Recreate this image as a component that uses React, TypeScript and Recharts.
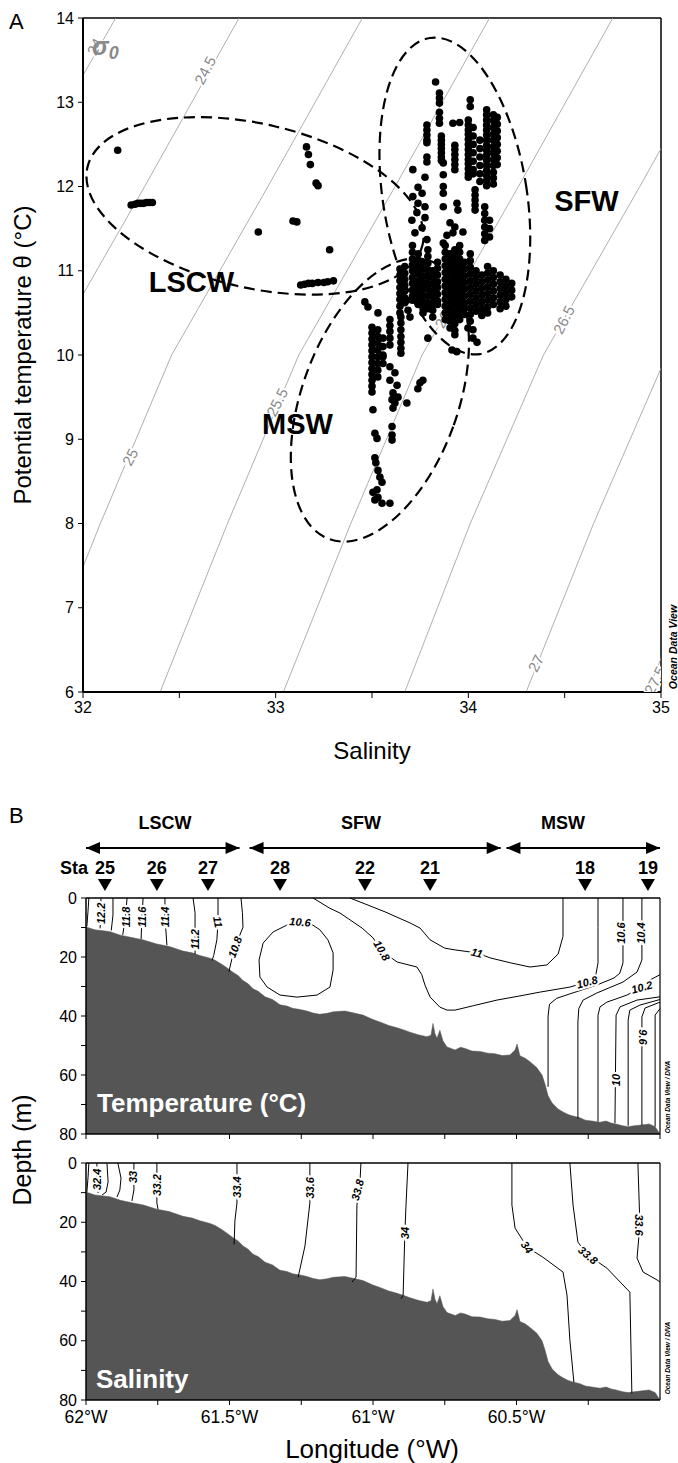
import { ComposedChart, Line, Scatter, Area, XAxis, YAxis, ReferenceLine } from 'recharts';

const FONT = '"Liberation Sans", Arial, sans-serif';

// ---------------- Panel A : theta / salinity diagram ----------------
const salTicks = [32, 32.5, 33, 33.5, 34, 34.5, 35];
const thetaTicks = [6, 7, 8, 9, 10, 11, 12, 13, 14];

// sigma-0 isopycnals: salinity read at theta = 6, 8, 10, 12, 14 °C
const isoTheta = [6, 8, 10, 12, 14];
const sigmaLevels = ['24', '24.5', '25', '25.5', '26', '26.5', '27', '27.5'];
const sigmaSal = [
  [30.45, 30.8, 31.18, 31.67, 32.17],
  [31.1, 31.45, 31.82, 32.32, 32.81],
  [31.74, 32.09, 32.46, 32.96, 33.45],
  [32.4, 32.75, 33.12, 33.62, 34.11],
  [33.04, 33.39, 33.76, 34.26, 34.75],
  [33.67, 34.01, 34.39, 34.89, 35.38],
  [34.3, 34.65, 35.03, 35.52, 36.02],
  [34.93, 35.28, 35.65, 36.15, 36.64],
];
const sigmaLabels = [
  { text: '24', s: 32.06, t: 13.66 },
  { text: '24.5', s: 32.633, t: 13.38 },
  { text: '25', s: 32.244, t: 8.79 },
  { text: '25.5', s: 33.007, t: 9.44 },
  { text: '26', s: 33.866, t: 10.42 },
  { text: '26.5', s: 34.495, t: 10.42 },
  { text: '27', s: 34.35, t: 6.34 },
  { text: '27.5', s: 34.968, t: 6.14 },
];

const lscwObs: [number, number][] = [
  [32.18, 12.43],
  [32.25, 11.78], [32.27, 11.79], [32.285, 11.8], [32.3, 11.8], [32.315, 11.8], [32.33, 11.81], [32.345, 11.81], [32.36, 11.81],
  [32.91, 11.46], [33.09, 11.59], [33.11, 11.58],
  [33.16, 12.47], [33.17, 12.38], [33.18, 12.26], [33.21, 12.04], [33.22, 12.01],
  [33.28, 11.25],
  [33.13, 10.83], [33.15, 10.84], [33.17, 10.85], [33.19, 10.85], [33.22, 10.86], [33.25, 10.86], [33.27, 10.87], [33.3, 10.88],
];

const mswObs: [number, number][] = [
  [33.463, 10.63], [33.479, 10.57], [33.531, 10.5],
  [33.5, 10.33], [33.5, 10.26], [33.5, 10.19], [33.5, 10.12], [33.5, 10.05], [33.5, 9.98], [33.5, 9.91], [33.5, 9.84],
  [33.5, 9.77], [33.5, 9.7], [33.5, 9.63], [33.5, 9.56],
  [33.53, 10.3], [33.53, 10.22], [33.53, 10.14], [33.53, 10.06], [33.53, 9.98], [33.53, 9.9], [33.53, 9.82], [33.53, 9.74],
  [33.557, 10.2], [33.557, 10.1], [33.557, 10.0], [33.557, 9.9],
  [33.593, 10.42], [33.593, 10.35], [33.593, 10.28], [33.593, 10.2], [33.593, 10.12],
  [33.65, 10.45], [33.65, 10.38], [33.65, 10.3], [33.65, 10.22], [33.65, 10.15], [33.65, 10.08], [33.65, 10.02],
  [33.681, 10.65], [33.687, 10.53], [33.697, 10.45],
  [33.557, 9.98], [33.593, 9.86], [33.619, 9.79], [33.593, 9.7], [33.63, 9.64], [33.609, 9.55], [33.635, 9.5],
  [33.604, 9.47], [33.619, 9.43], [33.681, 9.43], [33.609, 9.37], [33.505, 9.35],
  [33.749, 9.67], [33.764, 9.7], [33.738, 9.6], [33.79, 10.2],
  [33.515, 9.07], [33.526, 9.01], [33.604, 9.15], [33.604, 9.05], [33.604, 8.99],
  [33.515, 8.78], [33.52, 8.72], [33.531, 8.63], [33.541, 8.55], [33.552, 8.49], [33.505, 8.37], [33.526, 8.4],
  [33.531, 8.31], [33.552, 8.24], [33.515, 8.28], [33.593, 8.24],
];

// SFW profiles: [salinity, theta values]
const sfwUpperCols: [number, number[]][] = [
  [33.83, [13.24]],
  [33.85, [13.11, 13.05, 12.99, 12.88, 12.81, 12.75]],
  [33.86, [12.6, 12.55, 12.5, 12.45, 12.4, 12.35, 12.31]],
  [33.785, [12.73, 12.67, 12.61, 12.55, 12.52, 12.35, 12.29]],
  [33.92, [12.75]],
  [33.955, [12.76]],
  [33.93, [12.49, 12.44, 12.38, 12.32, 12.26, 12.2]],
  [34.01, [13.03, 12.95]],
  [34.0, [12.79, 12.73, 12.67, 12.62, 12.56, 12.5, 12.44, 12.38, 12.32, 12.27, 12.21, 12.15, 12.11]],
  [34.025, [12.7, 12.6, 12.5, 12.4, 12.3, 12.2, 12.15]],
  [34.06, [12.55, 12.45, 12.35, 12.25, 12.15, 12.06]],
  [34.095, [12.91, 12.85, 12.79, 12.73, 12.67, 12.61, 12.55, 12.49, 12.43, 12.37, 12.31, 12.25, 12.19, 12.13, 12.07, 12.01]],
  [34.13, [12.85, 12.78, 12.7, 12.62, 12.55, 12.47, 12.4, 12.32, 12.25, 12.17, 12.1, 12.03]],
  [34.15, [12.82, 12.74, 12.66, 12.58, 12.5, 12.42, 12.34, 12.26]],
  [33.87, [12.28, 12.14, 12.0, 11.92, 11.76, 11.33]],
  [34.035, [11.96, 11.9, 11.84, 11.78, 11.72]],
  [34.085, [11.76, 11.68, 11.6, 11.52, 11.44, 11.36]],
  [34.11, [11.6, 11.5, 11.4]],
];
const sfwCoreCols: [number, number[]][] = [
  [33.645, [11.02, 10.95, 10.88, 10.8, 10.73, 10.66, 10.58, 10.5]],
  [33.67, [11.05, 10.97, 10.9, 10.83, 10.76, 10.68, 10.62]],
  [33.71, [11.3, 11.22, 11.14, 11.07, 11.0, 10.92, 10.85, 10.77, 10.7, 10.65]],
  [33.74, [11.2, 11.12, 11.04, 10.96, 10.88, 10.81, 10.73, 10.66, 10.6]],
  [33.765, [11.1, 11.02, 10.94, 10.86, 10.79, 10.71, 10.63, 10.55, 10.5]],
  [33.79, [11.25, 11.17, 11.09, 11.01, 10.93, 10.85, 10.78, 10.7, 10.62, 10.55]],
  [33.815, [11.0, 10.92, 10.84, 10.76, 10.69, 10.61, 10.53, 10.45]],
  [33.84, [11.1, 11.03, 10.95, 10.87, 10.8, 10.72, 10.64, 10.6]],
  [33.88, [11.3, 11.22, 11.14, 11.06, 10.98, 10.9, 10.82, 10.74, 10.66, 10.58, 10.5, 10.42]],
  [33.905, [11.2, 11.12, 11.04, 10.96, 10.88, 10.8, 10.72, 10.64, 10.56, 10.48, 10.4, 10.32]],
  [33.93, [11.25, 11.17, 11.09, 11.01, 10.93, 10.85, 10.77, 10.69, 10.61, 10.53, 10.45, 10.37, 10.29, 10.24]],
  [33.955, [11.3, 11.22, 11.14, 11.06, 10.98, 10.9, 10.82, 10.74, 10.66, 10.58, 10.5, 10.42]],
  [33.98, [11.1, 11.02, 10.94, 10.86, 10.78, 10.7, 10.62, 10.55, 10.48]],
  [34.01, [11.2, 11.12, 11.04, 10.96, 10.88, 10.8, 10.72, 10.64, 10.56, 10.48, 10.4]],
  [34.04, [11.0, 10.92, 10.84, 10.76, 10.68, 10.6, 10.52]],
  [34.07, [10.95, 10.87, 10.79, 10.71, 10.63, 10.55, 10.47]],
  [34.1, [11.05, 10.97, 10.89, 10.81, 10.73, 10.65, 10.57, 10.5]],
  [34.13, [11.0, 10.92, 10.84, 10.76, 10.68, 10.6]],
  [34.165, [10.95, 10.87, 10.79, 10.71, 10.63, 10.55]],
  [34.195, [10.9, 10.82, 10.74, 10.66, 10.58]],
  [34.225, [10.85, 10.77, 10.69]],
];
const sfwScattered: [number, number][] = [
  [33.712, 12.2], [33.775, 12.11], [33.739, 11.99], [33.76, 11.92], [33.712, 11.88], [33.739, 11.8], [33.775, 11.76],
  [33.733, 11.69], [33.707, 11.6], [33.775, 11.63], [33.76, 11.51], [33.723, 11.45], [33.785, 11.37],
  [33.941, 11.8], [33.946, 11.72], [33.905, 11.57], [33.93, 11.52], [33.972, 11.46], [33.889, 11.42], [33.92, 11.45],
  [33.998, 10.32], [34.024, 10.3], [34.024, 10.2], [34.045, 10.15], [33.915, 10.06], [33.94, 10.04],
];

// dashed water-mass outlines (centre in data units)
const outlineNames = ['LSCW', 'MSW', 'SFW'];
const outlineCentre: [number, number][] = [[32.893, 11.77], [33.541, 9.466], [33.93, 11.887]];
const outlineShape = [
  { rx: 172, ry: 82, rot: 13 },
  { rx: 78, ry: 148, rot: 20 },
  { rx: 72, ry: 160, rot: -9 },
];
const massLabelsA = [
  { text: 'LSCW', s: 32.563, t: 10.87 },
  { text: 'MSW', s: 33.113, t: 9.18 },
  { text: 'SFW', s: 34.613, t: 11.83 },
];

// ---------------- Panel B : sections ----------------
const lonTicks = [60, 60.25, 60.5, 60.75, 61, 61.25, 61.5, 61.75, 62];
const depthTicks = [0, 10, 20, 30, 40, 50, 60, 70, 80];

const stationIds = ['25', '26', '27', '28', '22', '21', '18', '19'];
const stationLon = [61.934, 61.753, 61.575, 61.324, 61.028, 60.801, 60.261, 60.042];
const massNames = ['LSCW', 'SFW', 'MSW'];
const massSpan: [number, number][] = [[62.0, 61.465], [61.43, 60.555], [60.535, 60.0]];
const massLabelLon = [61.725, 61.042, 60.338];

// bottom depth along the section [lon °W, depth m]
const bathy: [number, number][] = [
  [62.0, 9.8], [61.969, 10.8], [61.94, 11.1], [61.916, 11.4], [61.88, 12.6], [61.836, 13.5], [61.8, 14.2],
  [61.753, 15.6], [61.71, 16.4], [61.662, 18], [61.63, 18.6], [61.603, 19.5], [61.568, 20.4], [61.55, 21.1],
  [61.526, 22.5], [61.51, 23.6], [61.488, 25.2], [61.47, 26.3], [61.453, 28], [61.435, 29.1], [61.418, 30.8],
  [61.4, 31.6], [61.376, 33.5], [61.35, 34.4], [61.324, 36.2], [61.3, 36.6], [61.28, 37.4], [61.254, 37.8],
  [61.23, 38.3], [61.209, 39], [61.185, 39.4], [61.16, 39.1], [61.139, 38.6], [61.098, 38.3], [61.07, 38.9],
  [61.035, 39.7], [61.0, 41.2], [60.976, 42], [60.945, 43.2], [60.916, 44], [60.89, 44.8], [60.871, 45.5],
  [60.84, 46.4], [60.812, 47], [60.798, 46.5], [60.791, 42.5], [60.784, 46], [60.777, 47.5], [60.767, 44.8],
  [60.756, 48.5], [60.742, 50.5], [60.714, 51.5], [60.695, 50.6], [60.679, 51], [60.655, 51.9], [60.627, 52],
  [60.6, 52.6], [60.575, 52.8], [60.55, 53.4], [60.523, 53.2], [60.505, 51.5], [60.498, 49.5], [60.488, 53.5],
  [60.47, 54.3], [60.453, 55.5], [60.429, 57.5], [60.411, 60], [60.401, 63], [60.39, 67], [60.376, 69.5],
  [60.355, 71.5], [60.338, 72.5], [60.32, 73.4], [60.307, 73.8], [60.279, 74.5], [60.26, 75.3], [60.244, 75.5],
  [60.209, 76], [60.188, 75.6], [60.17, 76.3], [60.157, 76.5], [60.13, 77.2], [60.111, 77.5], [60.09, 77.2],
  [60.07, 77], [60.038, 76.6], [60.017, 77.5], [60.0, 80],
];

const tempIsolines: [number, number][][] = [
  [[61.99, 0], [61.993, 4.5], [61.997, 9.6]],
  [[61.948, 0], [61.948, 5], [61.951, 10.3]],
  [[61.906, 0], [61.906, 5.8], [61.912, 11]],
  [[61.857, 0], [61.862, 6.4], [61.872, 12.5]],
  [[61.801, 0], [61.805, 6.4], [61.808, 14]],
  [[61.725, 0], [61.725, 6.4], [61.718, 16]],
  [[61.627, 0], [61.62, 5], [61.62, 14.2], [61.62, 19]],
  [[61.54, 0], [61.54, 8.1], [61.544, 14.2], [61.555, 19.5], [61.561, 21.2]],
  [[61.46, 0], [61.455, 5], [61.453, 9.9], [61.47, 14], [61.481, 16.6], [61.495, 22], [61.502, 25]],
  [[61.3, 9.2], [61.348, 11.5], [61.383, 15.3], [61.397, 21], [61.394, 26.8], [61.369, 30.2], [61.324, 32.9],
    [61.265, 33.6], [61.195, 32.9], [61.15, 30.2], [61.139, 24.4], [61.139, 18.6], [61.157, 14.2], [61.185, 10.8],
    [61.209, 9.2], [61.265, 8.1], [61.3, 9.2]],
  [[61.209, 0], [61.15, 3.5], [61.115, 5.1], [61.038, 10.2], [61.0, 13.5], [60.969, 18], [60.916, 21.7],
    [60.847, 23.4], [60.83, 26], [60.819, 29.5], [60.801, 33.6], [60.767, 37], [60.742, 38], [60.714, 38],
    [60.65, 36.5], [60.568, 34.6], [60.494, 33.3], [60.418, 31.9], [60.314, 30.2], [60.254, 28.5], [60.225, 26.8],
    [60.216, 22], [60.216, 10], [60.216, 0]],
  [[61.08, 0], [60.958, 4.7], [60.87, 8.5], [60.836, 10.2], [60.801, 14.2], [60.75, 17], [60.714, 17.6],
    [60.638, 18.6], [60.592, 20.3], [60.52, 22], [60.453, 23.4], [60.394, 22.7], [60.355, 19], [60.338, 13], [60.338, 0]],
  [[60.129, 0], [60.129, 22], [60.14, 25.5], [60.16, 27.1], [60.22, 29.5], [60.314, 32.5], [60.36, 34], [60.385, 36],
    [60.39, 40], [60.39, 64]],
  [[60.063, 0], [60.063, 21], [60.08, 25.1], [60.129, 28.5], [60.22, 32.2], [60.268, 34.6], [60.283, 37.5],
    [60.286, 42], [60.286, 74.8]],
  [[60.0, 26], [60.035, 27.8], [60.063, 30.2], [60.115, 32.9], [60.185, 35.3], [60.209, 36.9], [60.216, 39.7], [60.216, 75.8]],
  [[60.0, 33.5], [60.08, 34.6], [60.139, 36.9], [60.153, 39.7], [60.157, 76.3]],
  [[60.0, 34.4], [60.07, 36.3], [60.105, 38], [60.111, 41.4], [60.111, 77.2]],
  [[60.0, 35.3], [60.052, 37.3], [60.063, 40.3], [60.063, 77.1]],
  [[60.0, 37.5], [60.017, 39.7], [60.017, 77.5]],
];
const tempLabels = [
  { text: '12.2', lon: 61.947, d: 5.2, rot: -90 },
  { text: '11.8', lon: 61.862, d: 6.4, rot: -90 },
  { text: '11.6', lon: 61.805, d: 6.4, rot: -90 },
  { text: '11.4', lon: 61.725, d: 6.4, rot: -90 },
  { text: '11.2', lon: 61.62, d: 14, rot: -90 },
  { text: '11', lon: 61.54, d: 8.1, rot: 80 },
  { text: '10.8', lon: 61.481, d: 16.6, rot: -70 },
  { text: '10.6', lon: 61.254, d: 8.1, rot: 5 },
  { text: '10.8', lon: 60.969, d: 17.8, rot: 60 },
  { text: '11', lon: 60.638, d: 18.6, rot: 15 },
  { text: '10.8', lon: 60.254, d: 28.5, rot: -15 },
  { text: '10.6', lon: 60.135, d: 11.9, rot: -90 },
  { text: '10.4', lon: 60.066, d: 11.9, rot: -90 },
  { text: '10.2', lon: 60.063, d: 30.2, rot: -15 },
  { text: '10', lon: 60.155, d: 61.7, rot: -90 },
  { text: '9.6', lon: 60.058, d: 47.1, rot: 90 },
];

const salIsolines: [number, number][][] = [
  [[61.99, 0], [61.993, 5], [61.997, 9.8]],
  [[61.962, 0], [61.962, 7], [61.958, 10.1]],
  [[61.927, 0], [61.923, 6.4], [61.93, 9.8], [61.944, 10.8]],
  [[61.889, 0], [61.878, 5.1], [61.882, 9.1], [61.892, 11.5]],
  [[61.833, 0], [61.833, 9.1], [61.84, 12.8]],
  [[61.753, 0], [61.753, 13.5], [61.749, 15.6]],
  [[61.474, 0], [61.474, 13.5], [61.481, 19.3], [61.484, 27.5]],
  [[61.22, 0], [61.22, 13.5], [61.237, 28], [61.261, 38.6]],
  [[61.042, 0], [61.045, 5.7], [61.056, 14.2], [61.059, 38.5], [61.073, 40.2]],
  [[60.878, 0], [60.885, 14.2], [60.889, 23.6], [60.895, 44.6], [60.902, 45.8]],
  [[60.516, 0], [60.516, 14.2], [60.505, 22], [60.463, 28.4], [60.408, 31.8], [60.338, 36.8], [60.324, 44.6],
    [60.314, 59.8], [60.3, 74]],
  [[60.314, 0], [60.303, 14.2], [60.286, 26.7], [60.251, 31.1], [60.185, 35.5], [60.105, 43.6], [60.098, 77.8]],
  [[60.077, 0], [60.07, 20.9], [60.08, 32.1], [60.059, 36.8], [60.01, 39.5], [60.0, 40.2]],
];
const salLabels = [
  { text: '32.4', lon: 61.962, d: 5.5, rot: -90 },
  { text: '33', lon: 61.835, d: 4.7, rot: -90 },
  { text: '33.2', lon: 61.753, d: 7.4, rot: -90 },
  { text: '33.4', lon: 61.474, d: 8.1, rot: -90 },
  { text: '33.6', lon: 61.22, d: 8.4, rot: -90 },
  { text: '33.8', lon: 61.054, d: 9.1, rot: -75 },
  { text: '34', lon: 60.889, d: 23.6, rot: -90 },
  { text: '34', lon: 60.463, d: 28.4, rot: 55 },
  { text: '33.8', lon: 60.251, d: 31.1, rot: 40 },
  { text: '33.6', lon: 60.072, d: 20.9, rot: 90 },
];

// ---------------- helpers ----------------
const Dot = (p: any) => <circle cx={p.cx} cy={p.cy} r={3.8} fill="#000" />;

const textShape = (size: number, fill: string, opts: { bold?: boolean; italic?: boolean; halo?: boolean; rot?: number } = {}) =>
  (p: any) => {
    const rot = p.payload.rot ?? opts.rot ?? 0;
    return (
      <text
        x={p.cx}
        y={p.cy}
        transform={`rotate(${rot} ${p.cx} ${p.cy})`}
        textAnchor="middle"
        dominantBaseline="central"
        fontFamily={FONT}
        fontSize={size}
        fontWeight={opts.bold ? 'bold' : 'normal'}
        fontStyle={opts.italic ? 'italic' : 'normal'}
        fill={fill}
        stroke={opts.halo ? '#fff' : 'none'}
        strokeWidth={opts.halo ? 4 : 0}
        paintOrder="stroke"
      >
        {p.payload.text}
      </text>
    );
  };

const flatCols = (cols: [number, number[]][]) => cols.flatMap(([s, ts]) => ts.map((t) => ({ s, t })));
const obsA = [
  ...lscwObs.map(([s, t]) => ({ s, t })),
  ...mswObs.map(([s, t]) => ({ s, t })),
  ...flatCols(sfwUpperCols),
  ...flatCols(sfwCoreCols),
  ...sfwScattered.map(([s, t]) => ({ s, t })),
];

function PanelA() {
  return (
    <ComposedChart width={678} height={770} margin={{ top: 18, right: 17, bottom: 48, left: 23 }}>
      <XAxis
        type="number"
        dataKey="s"
        domain={[32, 35]}
        ticks={salTicks}
        allowDataOverflow
        height={30}
        tickSize={6}
        tickMargin={4}
        tickFormatter={(v: number) => (Number.isInteger(v) ? String(v) : '')}
        tick={{ fontSize: 16, fill: '#000', fontFamily: FONT }}
        tickLine={{ stroke: '#000' }}
        axisLine={{ stroke: '#000', strokeWidth: 2 }}
      />
      <YAxis
        type="number"
        dataKey="t"
        domain={[6, 14]}
        ticks={thetaTicks}
        allowDataOverflow
        width={60}
        tickSize={5}
        tickMargin={4}
        tick={{ fontSize: 16, fill: '#000', fontFamily: FONT }}
        tickLine={{ stroke: '#000' }}
        axisLine={{ stroke: '#000', strokeWidth: 2 }}
      />
      <ReferenceLine y={14} stroke="#000" strokeWidth={1.5} />
      <ReferenceLine x={35} stroke="#000" strokeWidth={1.5} />
      {sigmaLevels.map((lvl, i) => (
        <Line
          key={'iso' + lvl}
          data={isoTheta.map((t, k) => ({ s: sigmaSal[i][k], t }))}
          dataKey="t"
          stroke="#9a9a9a"
          strokeWidth={0.8}
          dot={false}
          activeDot={false}
          isAnimationActive={false}
        />
      ))}
      <Scatter data={sigmaLabels} dataKey="t" shape={textShape(15, '#8a8a8a', { halo: true, rot: -63 })} isAnimationActive={false} />
      <Scatter
        data={[{ s: 32.047, t: 13.56 }]}
        dataKey="t"
        isAnimationActive={false}
        shape={(p: any) => (
          <text x={p.cx} y={p.cy} fontFamily={FONT} fontSize={25} fontWeight="bold" fontStyle="italic" fill="#8a8a8a">
            σ<tspan fontSize={18} dy={4}>0</tspan>
          </text>
        )}
      />
      {outlineNames.map((n, i) => (
        <Scatter
          key={'ol' + n}
          data={[{ s: outlineCentre[i][0], t: outlineCentre[i][1] }]}
          dataKey="t"
          isAnimationActive={false}
          shape={(p: any) => (
            <ellipse
              cx={p.cx}
              cy={p.cy}
              rx={outlineShape[i].rx}
              ry={outlineShape[i].ry}
              transform={`rotate(${outlineShape[i].rot} ${p.cx} ${p.cy})`}
              fill="none"
              stroke="#000"
              strokeWidth={2.2}
              strokeDasharray="11 6"
            />
          )}
        />
      ))}
      <Scatter data={obsA} dataKey="t" shape={Dot} isAnimationActive={false} />
      <Scatter data={massLabelsA} dataKey="t" shape={textShape(29, '#000', { bold: true })} isAnimationActive={false} />
    </ComposedChart>
  );
}

function Header() {
  return (
    <ComposedChart width={678} height={100} margin={{ top: 0, right: 18, bottom: 0, left: 86 }}>
      <XAxis type="number" dataKey="lon" domain={[60, 62]} reversed hide height={0} />
      <YAxis type="number" dataKey="v" domain={[0, 10]} hide width={0} />
      {massNames.map((n, i) => (
        <Scatter
          key={'arr' + n}
          data={[
            { lon: massSpan[i][0], v: 5.2, dir: 'L' },
            { lon: massSpan[i][1], v: 5.2, dir: 'R' },
          ]}
          dataKey="v"
          line={{ stroke: '#000', strokeWidth: 2 }}
          isAnimationActive={false}
          shape={(p: any) => {
            const { cx, cy } = p;
            const k = p.payload.dir === 'L' ? 1 : -1;
            return <polygon points={`${cx},${cy} ${cx + k * 14},${cy - 6} ${cx + k * 14},${cy + 6}`} fill="#000" />;
          }}
        />
      ))}
      <Scatter
        data={massNames.map((n, i) => ({ lon: massLabelLon[i], v: 7.7, text: n }))}
        dataKey="v"
        shape={textShape(18, '#000', { bold: true })}
        isAnimationActive={false}
      />
      <Scatter
        data={stationIds.map((id, i) => ({ lon: stationLon[i], v: 3.2, text: id }))}
        dataKey="v"
        shape={textShape(18, '#000', { bold: true })}
        isAnimationActive={false}
      />
      <Scatter
        data={stationLon.map((lon) => ({ lon, v: 1.5 }))}
        dataKey="v"
        isAnimationActive={false}
        shape={(p: any) => (
          <polygon points={`${p.cx - 7},${p.cy - 6} ${p.cx + 7},${p.cy - 6} ${p.cx},${p.cy + 6}`} fill="#000" />
        )}
      />
    </ComposedChart>
  );
}

function Section({ height, xAxisHeight, isolines, labels, tickLabels }: any) {
  return (
    <ComposedChart width={678} height={height} margin={{ top: 18, right: 18, bottom: 0, left: 26 }}>
      <XAxis
        type="number"
        dataKey="lon"
        domain={[60, 62]}
        reversed
        ticks={lonTicks}
        height={xAxisHeight}
        tickSize={5}
        tickMargin={6}
        tickFormatter={(v: number) => (tickLabels && Number.isInteger(v * 2) ? `${v}°W` : '')}
        tick={{ fontSize: 17.5, fill: '#000', fontFamily: FONT }}
        tickLine={{ stroke: '#000' }}
        axisLine={{ stroke: '#000', strokeWidth: 1.5 }}
      />
      <YAxis
        type="number"
        dataKey="d"
        domain={[0, 80]}
        reversed
        ticks={depthTicks}
        width={60}
        tickSize={5}
        tickMargin={4}
        tickFormatter={(v: number) => (v % 20 === 0 ? String(v) : '')}
        tick={{ fontSize: 16, fill: '#000', fontFamily: FONT }}
        tickLine={{ stroke: '#000' }}
        axisLine={{ stroke: '#000', strokeWidth: 1.5 }}
      />
      {isolines.map((pts: [number, number][], i: number) => (
        <Line
          key={'c' + i}
          data={pts.map(([lon, d]) => ({ lon, d }))}
          dataKey="d"
          stroke="#000"
          strokeWidth={1}
          dot={false}
          activeDot={false}
          isAnimationActive={false}
        />
      ))}
      <Area
        data={bathy.map(([lon, d]) => ({ lon, d }))}
        dataKey="d"
        baseValue={80}
        type="linear"
        fill="#555555"
        fillOpacity={1}
        stroke="#555555"
        strokeWidth={0.5}
        dot={false}
        activeDot={false}
        isAnimationActive={false}
      />
      <Scatter data={labels} dataKey="d" shape={textShape(11, '#000', { bold: true, italic: true, halo: true })} isAnimationActive={false} />
      <ReferenceLine y={0} stroke="#000" strokeWidth={1.5} />
      <ReferenceLine x={60} stroke="#000" strokeWidth={1.2} />
    </ComposedChart>
  );
}

export default function App() {
  return (
    <div style={{ position: 'absolute', left: 0, top: 0, width: 678, height: 1463, background: '#fff' }}>
      <div style={{ position: 'absolute', left: 0, top: 0 }}>
        <PanelA />
      </div>
      <div style={{ position: 'absolute', left: 0, top: 800 }}>
        <Header />
      </div>
      <div style={{ position: 'absolute', left: 0, top: 880 }}>
        <Section height={270} xAxisHeight={16} isolines={tempIsolines} labels={tempLabels} tickLabels={false} />
      </div>
      <div style={{ position: 'absolute', left: 0, top: 1145 }}>
        <Section height={285} xAxisHeight={30} isolines={salIsolines} labels={salLabels} tickLabels={true} />
      </div>
      <svg width={678} height={1463} style={{ position: 'absolute', left: 0, top: 0, pointerEvents: 'none' }} fontFamily={FONT}>
        <text x={9} y={29} fontSize={22}>A</text>
        <text x={22} y={355} fontSize={24} textAnchor="middle" dominantBaseline="central" transform="rotate(-90 22 355)">
          Potential temperature θ (°C)
        </text>
        <text x={372} y={759} fontSize={24} textAnchor="middle">Salinity</text>
        <text x={673} y={647} fontSize={10.5} fontWeight="bold" fontStyle="italic" textAnchor="middle" dominantBaseline="central" transform="rotate(-90 673 647)">
          Ocean Data View
        </text>
        <text x={9} y={823} fontSize={22}>B</text>
        <text x={88} y={874} fontSize={18} fontWeight="bold" textAnchor="end">Sta</text>
        <text x={22} y={1150} fontSize={25} textAnchor="middle" dominantBaseline="central" transform="rotate(-90 22 1150)">
          Depth (m)
        </text>
        <text x={97} y={1112} fontSize={26} fontWeight="bold" fill="#fff">Temperature (°C)</text>
        <text x={96} y={1388} fontSize={26} fontWeight="bold" fill="#fff">Salinity</text>
        <text x={667} y={1097} fontSize={6.5} fontWeight="bold" fontStyle="italic" textAnchor="middle" dominantBaseline="central" transform="rotate(-90 667 1097)">
          Ocean Data View / DIVA
        </text>
        <text x={667} y={1358} fontSize={6.5} fontWeight="bold" fontStyle="italic" textAnchor="middle" dominantBaseline="central" transform="rotate(-90 667 1358)">
          Ocean Data View / DIVA
        </text>
        <text x={372} y={1458} fontSize={26} textAnchor="middle">Longitude (°W)</text>
      </svg>
    </div>
  );
}
